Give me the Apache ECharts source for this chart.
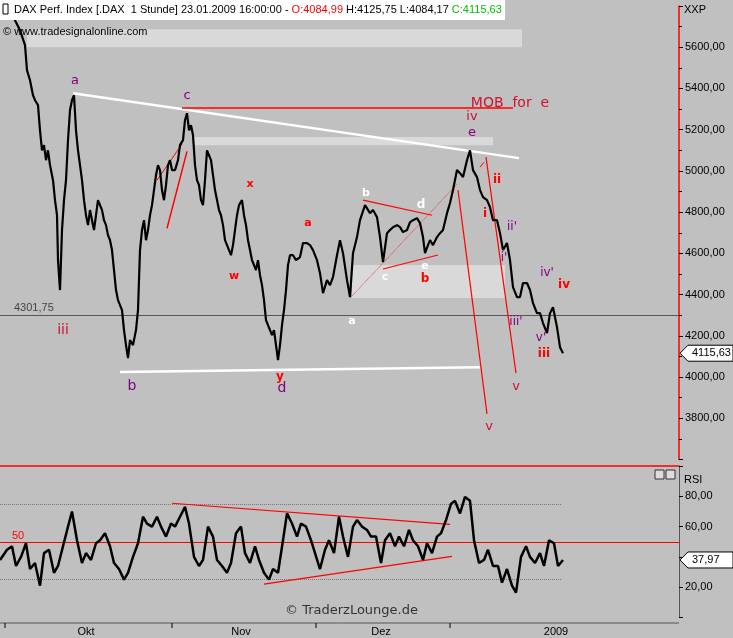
<!DOCTYPE html>
<html><head><meta charset="utf-8">
<script src="https://cdn.jsdelivr.net/npm/echarts@6/dist/echarts.min.js"></script>
<style>html,body{margin:0;padding:0;background:#c0c0c0}#c{width:733px;height:638px}</style>
</head><body><div id="c"></div>
<script>
var priceX=[8,15,20,25,27,30,33,35,38,40,42,44,46,48,50,53,55,57,58,60,62,64,66,68,70,72,74,76,78,80,82,84,86,88,90,92,94,96,98,100,102,104,106,108,110,112,114,116,118,120,122,124,126,128,130,133,136,138,140,142,144,146,148,150,152,154,156,158,160,162,164,166,168,170,172,175,178,180,183,185,187,189,191,193,195,197,199,201,203,205,207,209,211,213,215,217,219,221,223,225,227,229,231,233,235,237,239,242,244,246,248,250,252,254,256,258,260,262,264,266,268,270,272,274,276,278,280,282,284,286,288,290,293,296,300,303,307,310,313,317,320,323,327,330,333,337,340,343,347,350,353,357,360,365,370,373,377,380,383,387,390,393,397,400,403,407,410,413,417,420,423,425,428,430,433,437,440,443,447,450,453,457,460,463,467,470,473,477,480,483,487,490,493,497,500,503,507,510,513,517,520,523,527,530,533,537,540,543,547,550,553,557,560,563];
var priceV=[5779,5731,5682,5610,5488,5440,5367,5343,5319,5197,5100,5125,5052,5100,5028,4955,4858,4785,4567,4422,4713,4858,4955,5149,5294,5343,5367,5197,5100,5028,4955,4858,4785,4737,4810,4761,4713,4785,4858,4834,4810,4761,4737,4688,4664,4616,4519,4422,4373,4373,4325,4228,4155,4092,4179,4155,4228,4325,4616,4713,4761,4664,4713,4785,4834,4907,4979,5028,5004,4907,4858,4931,5028,5052,5004,5004,5052,5125,5149,5246,5280,5197,5222,5173,5028,4955,4931,4858,4834,4955,5100,5100,5052,5052,4907,4907,4810,4785,4737,4664,4640,4616,4591,4640,4640,4785,4834,4858,4785,4737,4664,4616,4567,4543,4519,4567,4494,4446,4373,4276,4252,4228,4204,4228,4155,4082,4155,4252,4325,4422,4543,4591,4591,4567,4582,4650,4650,4640,4616,4567,4504,4407,4470,4446,4485,4591,4664,4601,4470,4388,4601,4679,4761,4834,4795,4810,4776,4679,4558,4698,4713,4727,4737,4727,4703,4713,4751,4761,4771,4747,4679,4601,4640,4664,4640,4679,4698,4713,4795,4844,4907,5004,4989,4970,5052,5100,5004,4970,4907,4873,4858,4824,4761,4761,4698,4616,4650,4567,4436,4388,4388,4456,4456,4422,4359,4310,4310,4262,4213,4310,4339,4242,4145,4116];
var rsiX=[0,7,12,16,21,26,30,35,40,44,49,54,58,63,68,72,77,82,86,91,96,100,105,110,114,119,124,128,133,138,143,147,152,157,161,166,171,175,180,185,189,194,199,203,208,213,217,222,227,231,236,241,245,250,255,259,264,269,273,278,283,287,292,297,301,306,311,315,320,325,329,334,339,343,348,353,357,362,367,371,376,381,385,390,395,399,404,409,413,418,423,427,432,437,441,446,451,455,460,465,470,474,479,484,488,493,498,502,507,512,516,521,526,530,535,540,544,549,554,558,563];
var rsiV=[38,44.7,47,34,40,49,32,36,21,42.5,44.7,29.5,34,47,60,70,51,36,42.5,38,49,51,55.6,47,36,32,25,29.5,40,49,66.5,62,60,66.5,60,53.4,62,60,66.5,73,62,40,34,38,60,53.4,38,34,29.5,36,55.6,60,42.5,36,47,38,29.5,25,32,29.5,51,68.7,62,53.4,62,60,51,42.5,32,44.7,51,42.5,66.5,53.4,40,60,64.3,60,57.8,53.4,53.4,36,51,55.6,47,53.4,47,57.8,51,47,38,49,42.5,53.4,55.6,64.3,75,77,68.7,79.6,77,51,36,38,44.7,34,34,23,32,21,16.4,40,47,40,36,42.5,34,51,49,34,37.97];
var priceTicks=[5600,5400,5200,5000,4800,4600,4400,4200,4000,3800];
var rsiTicks=[80,60,20];
var monthLabels=[{t:'Okt',x:86},{t:'Nov',x:241},{t:'Dez',x:381},{t:'2009',x:556}];
var lastPrice=4115.63, lastRsi=37.97;

var price=priceX.map(function(x,i){return [x,priceV[i]];});
var rsi=rsiX.map(function(x,i){return [x,rsiV[i]];});
function fmt(v){return v.toFixed(2).replace('.',',');}
var chart=echarts.init(document.getElementById('c'));
var RED='#ff0000',CR='#d01030',PU='#800080';
var G0={top:6,h:453.5,min:3600,max:5800},G1={top:466,h:151.5,min:0,max:100};
function py(g,v){return g.top+(g.max-v)/(g.max-g.min)*g.h;}
function seg(a,b,c,w,t){return [{coord:a,lineStyle:{color:c,width:w,type:t||'solid'}},{coord:b}];}
function lab(x,v,t,c,s,b){return {coord:[x,v],value:t,label:{show:true,formatter:t,color:c,fontSize:s||12,fontWeight:b?'bold':'normal',fontFamily:'DejaVu Sans'}};}
function tag(y,txt){
  return [{type:'polygon',shape:{points:[[680,y],[688,y-8],[733,y-8],[733,y+8],[688,y+8]]},style:{fill:'#fff',stroke:'#000',lineWidth:1},z:20},
          {type:'text',x:692,y:y-6,z:21,style:{text:txt,fill:'#000',fontSize:11,fontFamily:'Liberation Sans'}}];
}
var FONT='Liberation Sans';
var graphics=[
   {type:'rect',shape:{x:0,y:0,width:505,height:20},style:{fill:'#fff'},z:10},
   {type:'rect',shape:{x:3,y:4,width:5,height:10},style:{fill:'#fff',stroke:'#000',lineWidth:1},z:11},
   {type:'text',x:14,y:4,z:11,style:{text:'{k|DAX Perf. Index [.DAX  1 Stunde] 23.01.2009 16:00:00 - }{r|O:4084,99}{k| H:4125,75 L:4084,17 }{g|C:4115,63}',
     rich:{k:{fill:'#000',fontSize:11,fontFamily:FONT},r:{fill:'#ff0000',fontSize:11,fontFamily:FONT},g:{fill:'#00c000',fontSize:11,fontFamily:FONT}}}},
   {type:'text',x:3,y:26,z:11,style:{text:'© www.tradesignalonline.com',fill:'#000',fontSize:11,fontFamily:FONT}},
   {type:'text',x:684,y:4,z:11,style:{text:'XXP',fill:'#000',fontSize:11,fontFamily:FONT}},
   {type:'text',x:684,y:474,z:11,style:{text:'RSI',fill:'#000',fontSize:11,fontFamily:FONT}},
   {type:'text',x:14,y:302,z:11,style:{text:'4301,75',fill:'#444',fontSize:11,fontFamily:FONT}},
   {type:'text',x:12,y:530,z:11,style:{text:'50',fill:RED,fontSize:11,fontFamily:FONT}},
   {type:'text',x:285,y:604,z:11,style:{text:'© TraderzLounge.de',fill:'#333',fontSize:13,fontFamily:'DejaVu Sans'}},
   {type:'line',shape:{x1:0,y1:466,x2:679,y2:466},style:{stroke:RED,lineWidth:1.5},z:11},
   {type:'line',shape:{x1:0,y1:623,x2:679,y2:623},style:{stroke:'#555',lineWidth:1},z:11},
   {type:'rect',shape:{x:655,y:470,width:9,height:9},style:{fill:'#ddd',stroke:'#333'},z:11},
   {type:'rect',shape:{x:666,y:470,width:9,height:9},style:{fill:'#ddd',stroke:'#333'},z:11}
  ].concat(monthLabels.map(function(m){return {type:'text',x:m.x,y:626,z:11,style:{text:m.t,fill:'#000',fontSize:11,fontFamily:FONT,align:'center'}};}))
   .concat([5,172,316,450].map(function(x){return {type:'line',shape:{x1:x,y1:623,x2:x,y2:628},style:{stroke:'#000'},z:11};}))
   .concat(tag(py(G0,lastPrice),fmt(lastPrice))).concat(tag(py(G1,lastRsi),fmt(lastRsi)));
chart.setOption({
  backgroundColor:'#c0c0c0',animation:false,
  grid:[{left:0,width:679,top:G0.top,height:G0.h},{left:0,width:679,top:G1.top,height:G1.h}],
  xAxis:[{gridIndex:0,type:'value',min:0,max:679,show:false},
         {gridIndex:1,type:'value',min:0,max:679,show:false}],
  yAxis:[{gridIndex:0,type:'value',position:'right',min:G0.min,max:G0.max,interval:200,
    axisLine:{show:true,onZero:false,lineStyle:{color:RED,width:1.5}},axisTick:{show:true,length:4,lineStyle:{color:'#000'}},
    minorTick:{show:true,splitNumber:2,length:3,lineStyle:{color:'#000'}},
    splitLine:{show:false},
    axisLabel:{color:'#000',fontSize:11,fontFamily:FONT,margin:6,formatter:function(v){return priceTicks.indexOf(v)>=0?fmt(v):'';}}},
   {gridIndex:1,type:'value',position:'right',min:G1.min,max:G1.max,interval:20,
    axisLine:{show:true,onZero:false,lineStyle:{color:'#555'}},axisTick:{show:true,length:4,lineStyle:{color:'#000'}},
    splitLine:{show:false},
    axisLabel:{color:'#000',fontSize:11,fontFamily:FONT,margin:6,formatter:function(v){return rsiTicks.indexOf(v)>=0?fmt(v):'';}}}],
  series:[
   {type:'line',xAxisIndex:0,yAxisIndex:0,data:price,symbol:'none',lineStyle:{color:'#000',width:2.2},z:5,
    markArea:{silent:true,itemStyle:{color:'rgba(225,225,225,0.75)'},data:[
      [{coord:[27,5687]},{coord:[522,5600]}],
      [{coord:[193,5164]},{coord:[493,5125]}],
      [{coord:[352,4543]},{coord:[505,4383]}]]},
    markLine:{silent:true,symbol:'none',label:{show:false},data:[
      seg([0,4301.75],[679,4301.75],'#555',1.2),
      seg([73,5377],[519,5062],'#fff',2.5),
      seg([120,4024],[480,4048],'#fff',2.5),
      seg([182,5304],[513,5304],RED,1.5),
      seg([157,4955],[182,5130],RED,1),
      seg([167,4721],[187,5095],RED,1.5),
      seg([458,4907],[487,3821],RED,1.2),
      seg([486,5067],[516,4019],RED,1.2),
      seg([480,5018],[484,5042],RED,1),
      seg([352,4393],[457,4936],RED,0.8,'dotted'),
      seg([363,4858],[432,4785],RED,1.2),
      seg([383,4524],[438,4592],RED,1.2)]},
    markPoint:{symbol:'circle',symbolSize:0,silent:true,data:[
      lab(75,5440,'a',PU,13),lab(187,5367,'c',PU,13),lab(132,3955,'b',PU,14),lab(282,3945,'d',PU,14),
      lab(472,5188,'e',PU,13),lab(472,5265,'iv',CR,13),
      lab(63,4228,'iii',CR,14),lab(250,4934,'x',RED,11,1),lab(234,4490,'w',RED,11,1),lab(280,4000,'y',RED,12,1),
      lab(308,4747,'a',RED,11,1),lab(366,4893,'b','#fff',11,1),lab(421,4834,'d','#fff',12,1),
      lab(385,4484,'c','#fff',11,1),lab(425,4538,'e','#fff',11,1),lab(425,4475,'b',RED,12,1),lab(352,4270,'a','#fff',11,1),
      lab(497,4955,'ii',RED,12,1),lab(485,4790,'i',RED,12,1),lab(512,4730,"ii'",PU,12),lab(504,4580,"i'",PU,12),
      lab(547,4507,"iv'",PU,12),lab(564,4445,'iv',RED,12,1),lab(516,4270,"iii'",PU,12),lab(541,4190,"v'",PU,12),
      lab(544,4110,'iii',RED,12,1),lab(516,3955,'v',CR,13),lab(489,3760,'v',CR,13),
      {coord:[510,5330],value:'MOB',label:{show:true,formatter:'MOB  for  e',color:CR,fontSize:14,fontFamily:'DejaVu Sans'}}]}},
   {type:'line',xAxisIndex:1,yAxisIndex:1,data:rsi,symbol:'none',lineStyle:{color:'#000',width:2.5},z:5,
    markLine:{silent:true,symbol:'none',label:{show:false},data:[
      seg([0,75],[561,75],'#777',1,'dotted'),
      seg([0,25],[561,25],'#777',1,'dotted'),
      seg([0,50],[679,50],RED,1.2),
      seg([172,75.4],[450,61.5],RED,1.2),
      seg([264,22],[452,40.4],RED,1.2)]}}
  ],
  graphic:graphics
});
</script></body></html>
